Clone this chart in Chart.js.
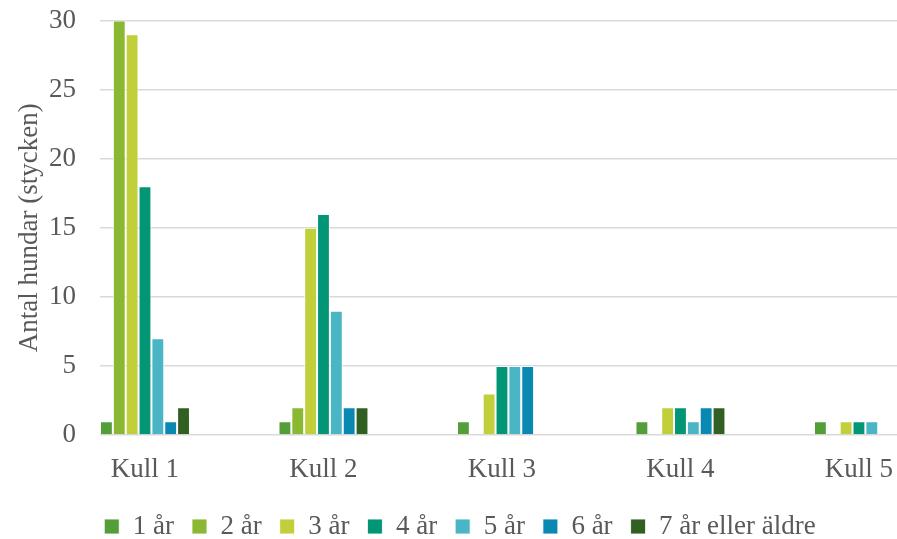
<!DOCTYPE html>
<html>
<head>
<meta charset="utf-8">
<script src="https://cdn.jsdelivr.net/npm/chart.js@4.4.1/dist/chart.umd.min.js"></script>
<style>
  html, body { margin: 0; padding: 0; background: #fff; overflow: hidden; }
  #wrap { position: relative; width: 920px; height: 550px; }
</style>
</head>
<body>
<div id="wrap"><canvas id="barChart"></canvas></div>
<script>
// kullar (kategorier)
var kullar = ["Kull 1", "Kull 2", "Kull 3", "Kull 4", "Kull 5"];
// åldersgrupper (serier)
var aldrar = ["1 år", "2 år", "3 år", "4 år", "5 år", "6 år", "7 år eller äldre"];
var ar1 = [1, 1, 1, 1, 1];
var ar2 = [30, 2, 0, 0, 0];
var ar3 = [29, 15, 3, 2, 1];
var ar4 = [18, 16, 5, 2, 1];
var ar5 = [7, 9, 5, 1, 1];
var ar6 = [1, 2, 5, 2, 0];
var ar7 = [2, 2, 0, 2, 0];
var yTicks = [0, 5, 10, 15, 20, 25, 30];

var farger = ["#549E39", "#8AB833", "#C0CF3A", "#029676", "#4AB5C4", "#0989B1", "#325F22"];
var serier = [ar1, ar2, ar3, ar4, ar5, ar6, ar7];

var textColor = "#595959";
var font = { family: "'Liberation Serif', 'DejaVu Serif', serif", size: 27 };

var datasets = serier.map(function(vals, s) {
  return {
    label: aldrar[s],
    data: vals.map(function(v, i) { return { x: i, y: v }; }),
    backgroundColor: farger[s],
    borderColor: "rgba(255,255,255,0.85)",
    borderWidth: 1,
    barPercentage: 1,
    categoryPercentage: 0.504,
  };
});

var ctx = document.getElementById("barChart").getContext("2d");
var chart = new Chart(ctx, {
  type: "bar",
  data: { datasets: datasets },
  options: {
    responsive: true,
    maintainAspectRatio: false,
    animation: false,
    layout: { padding: { top: 20.5, left: 0, right: 0, bottom: 0 } },
    plugins: {
      tooltip: { enabled: false },
      legend: {
        position: "bottom",
        labels: {
          font: font,
          color: textColor,
          boxWidth: 15,
          boxHeight: 15,
          padding: 18,
        },
      },
    },
    scales: {
      x: {
        type: "linear",
        offset: false,
        min: -0.252,
        max: 4.342,
        grid: { display: false, drawTicks: false },
        border: { display: false },
        afterBuildTicks: function(scale) {
          scale.ticks = kullar.map(function(k, i) { return { value: i }; });
        },
        afterFit: function(scale) { scale.height = 60; },
        ticks: {
          font: font,
          color: textColor,
          padding: 19,
          maxRotation: 0,
          autoSkip: false,
          callback: function(v) { return kullar[v]; },
        },
      },
      y: {
        min: 0,
        max: 30,
        afterBuildTicks: function(scale) {
          scale.ticks = yTicks.map(function(t) { return { value: t }; });
        },
        afterFit: function(scale) { scale.width = 100; },
        grid: {
          color: "#d9d9d9",
          lineWidth: 1.5,
          drawTicks: true,
          tickLength: 24,
          tickColor: "rgba(0,0,0,0)",
        },
        border: { display: false },
        ticks: { font: font, color: textColor, padding: 0 },
        title: {
          display: true,
          text: "Antal hundar (stycken)",
          font: font,
          color: textColor,
          padding: { top: 14, bottom: 0 },
        },
      },
    },
  },
});
</script>
</body>
</html>
